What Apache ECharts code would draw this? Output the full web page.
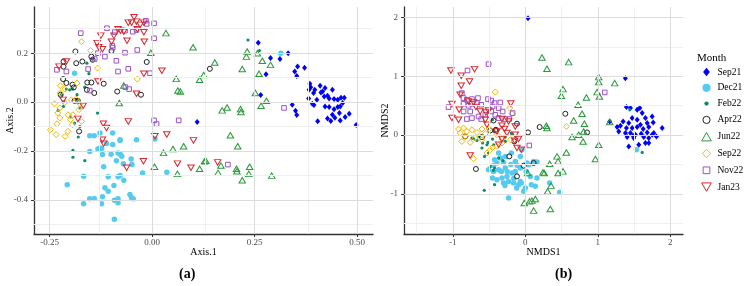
<!DOCTYPE html>
<html><head><meta charset="utf-8">
<script src="https://cdn.jsdelivr.net/npm/echarts@6/dist/echarts.min.js"></script>
<style>html,body{margin:0;padding:0;background:#fff}#c{width:746px;height:286px}</style>
</head><body><div id="c"></div>
<script>
const months = ['Sep21','Dec21','Feb22','Apr22','Jun22','Sep22','Nov22','Jan23'];

// Panel (a) ticks
const aTicksX = [-0.25, 0, 0.25, 0.5];
const aLabelsX = ['-0.25', '0.00', '0.25', '0.50'];
const aTicksY = [-0.4, -0.2, 0, 0.2];
const aLabelsY = ['-0.4', '-0.2', '0.0', '0.2'];
const aMinorX = [-0.125, 0.125, 0.375];
const aMinorY = [-0.5, -0.3, -0.1, 0.1, 0.3];
// Panel (b) ticks
const bTicksX = [-1, 0, 1, 2];
const bLabelsX = ['-1', '0', '1', '2'];
const bTicksY = [-1, 0, 1, 2];
const bLabelsY = ['-1', '0', '1', '2'];
const bMinorX = [-1.5, -0.5, 0.5, 1.5];
const bMinorY = [-1.5, -0.5, 0.5, 1.5];

// Panel (a) data: Axis.1, Axis.2
const aSep21 = [[0.259,0.243],[0.289,0.18],[0.312,0.176],[0.332,0.2],[0.278,0.114],[0.355,0.145],[0.372,0.14],[0.348,0.125],[0.353,0.107],[0.265,0.029],[0.342,-0.011],[0.35,-0.036],[0.353,-0.053],[0.11,-0.082],[0.385,0.075],[0.387,0.061],[0.383,0.05],[0.397,0.05],[0.41,0.067],[0.422,0.057],[0.44,0.05],[0.394,0.037],[0.412,0.039],[0.416,0.043],[0.428,0.026],[0.42,0.023],[0.382,0.015],[0.402,0.009],[0.432,0.015],[0.444,0.012],[0.453,0.009],[0.461,0.018],[0.469,0.018],[0.391,-0.007],[0.395,-0.012],[0.422,-0.018],[0.432,-0.02],[0.444,-0.029],[0.453,-0.02],[0.459,-0.018],[0.465,-0.004],[0.457,-0.045],[0.44,-0.052],[0.428,-0.067],[0.446,-0.064],[0.436,-0.078],[0.459,-0.075],[0.471,-0.061],[0.481,-0.048],[0.404,-0.079],[0.498,-0.094]];
const aDec21 = [[-0.189,0.118],[0.314,0.2],[-0.152,-0.138],[-0.141,-0.138],[-0.127,-0.127],[-0.096,-0.127],[-0.078,-0.154],[-0.038,-0.154],[0.007,-0.151],[-0.127,-0.188],[-0.111,-0.17],[-0.096,-0.174],[-0.152,-0.202],[-0.132,-0.192],[-0.123,-0.19],[-0.078,-0.157],[-0.121,-0.215],[-0.1,-0.214],[-0.083,-0.208],[-0.077,-0.215],[-0.074,-0.222],[-0.051,-0.233],[-0.087,-0.24],[-0.07,-0.252],[-0.049,-0.256],[-0.118,-0.265],[-0.167,-0.304],[-0.107,-0.306],[-0.083,-0.306],[-0.078,-0.301],[-0.069,-0.32],[-0.023,-0.29],[0.036,-0.287],[-0.207,-0.338],[-0.093,-0.342],[-0.115,-0.351],[-0.107,-0.365],[-0.054,-0.378],[-0.05,-0.392],[-0.046,-0.396],[-0.152,-0.396],[-0.141,-0.395],[-0.121,-0.388],[-0.092,-0.402],[-0.083,-0.396],[-0.083,-0.412],[-0.167,-0.416],[-0.123,-0.416],[-0.092,-0.48]];
const aFeb22 = [[-0.159,0.159],[-0.154,0.116],[-0.145,0.176],[-0.209,0.053],[-0.201,0.05],[-0.194,0.053],[-0.183,0.03],[-0.181,0.009],[-0.229,-0.034],[-0.216,-0.018],[-0.216,0.002],[-0.164,0.061],[-0.199,-0.061],[-0.189,-0.086],[-0.176,-0.1],[-0.18,-0.143],[-0.133,-0.045],[-0.221,0.03],[-0.176,-0.024],[0.234,0.254],[0.262,0.211],[-0.193,-0.198],[-0.193,-0.226],[-0.164,-0.24]];
const aApr22 = [[-0.187,0.207],[-0.216,0.166],[-0.216,0.145],[-0.185,0.159],[-0.17,0.166],[-0.148,0.186],[-0.145,0.173],[-0.099,0.209],[-0.013,0.164],[-0.217,0.094],[-0.209,0.078],[-0.194,0.071],[-0.191,0.06],[-0.158,0.08],[-0.148,0.08],[-0.118,0.075],[-0.159,0.05],[-0.141,0.037],[-0.085,0.043],[-0.027,0.03],[-0.223,0.03],[-0.189,0.005],[-0.181,0.005],[-0.178,-0.12],[0.141,0.136]];
const aJun22 = [[0.034,0.282],[-0.003,0.202],[0.059,0.095],[0.063,0.047],[-0.069,0.068],[-0.08,-0.004],[0.051,-0.192],[0.077,-0.181],[0.1,0.224],[0.153,0.162],[0.126,0.111],[0.116,0.091],[0.232,0.207],[0.23,0.186],[0.257,0.2],[0.269,0.169],[0.289,0.152],[0.22,0.135],[0.261,0.116],[0.252,0.037],[0.279,0.005],[0.266,-0.015],[0.171,-0.034],[0.183,-0.022],[0.216,-0.029],[0.217,-0.041],[0.069,0.043],[0.191,-0.136],[0.209,-0.181],[0.128,-0.242],[0.131,-0.24],[0.116,-0.273],[0.168,-0.26],[0.161,-0.29],[0.206,-0.273],[0.207,-0.283],[0.238,-0.265],[0.236,-0.294],[0.22,-0.32],[0.292,-0.301],[0.028,-0.208],[0.006,-0.265],[0.062,-0.294]];
const aSep22 = [[-0.172,0.247],[-0.15,0.211],[-0.133,0.139],[-0.036,0.094],[-0.183,0.078],[-0.224,0.067],[-0.213,0.053],[-0.238,-0.007],[-0.225,-0.024],[-0.23,-0.045],[-0.205,-0.052],[-0.193,-0.052],[-0.178,-0.031],[-0.176,-0.007],[-0.213,-0.002],[-0.225,-0.065],[-0.232,-0.089],[-0.248,-0.113],[-0.234,-0.133],[-0.212,-0.14],[-0.205,-0.12],[-0.194,-0.093],[-0.172,-0.079],[-0.199,-0.072],[-0.185,0.012],[-0.197,0.009],[-0.224,0.037]];
const aNov22 = [[-0.174,0.282],[-0.11,0.302],[-0.091,0.286],[-0.066,0.292],[-0.047,0.288],[-0.038,0.295],[-0.015,0.333],[-0.013,0.32],[0.005,0.322],[0.005,0.261],[-0.097,0.231],[-0.096,0.223],[-0.132,0.2],[-0.066,0.202],[-0.036,0.213],[-0.115,0.186],[-0.087,0.169],[-0.14,0.176],[-0.232,0.132],[-0.209,0.125],[-0.156,0.135],[-0.083,0.125],[-0.058,0.136],[-0.005,0.118],[-0.065,0.061],[-0.056,0.053],[-0.152,0.047],[0.005,-0.075],[0.011,-0.09],[0.065,-0.075],[0.322,-0.024],[0.185,-0.256]];
const aJan23 = [[-0.044,0.347],[-0.058,0.325],[-0.05,0.325],[-0.038,0.329],[-0.029,0.316],[-0.02,0.325],[-0.083,0.298],[-0.077,0.292],[-0.069,0.288],[-0.125,0.272],[-0.093,0.271],[-0.036,0.298],[-0.02,0.286],[-0.061,0.251],[-0.099,0.247],[-0.019,0.247],[-0.134,0.241],[-0.13,0.224],[-0.121,0.216],[-0.227,0.145],[-0.209,0.166],[0.024,0.128],[-0.02,0.116],[-0.132,0.084],[-0.038,0.034],[-0.168,-0.015],[-0.217,0.009],[-0.181,-0.069],[-0.119,-0.089],[-0.111,-0.106],[-0.058,-0.079],[0.007,-0.14],[0.036,-0.133],[-0.121,-0.154],[0.101,-0.157],[-0.118,-0.17],[-0.021,-0.242],[-0.062,-0.269],[0.062,-0.252],[0.095,-0.269],[0.16,-0.247]];

// Panel (b) data: NMDS1, NMDS2
const bSep21 = [[0.037,1.99],[1.38,0.965],[1.395,0.476],[1.45,0.459],[1.543,0.43],[1.579,0.459],[1.612,0.374],[1.474,0.289],[1.543,0.26],[1.657,0.289],[1.75,0.316],[1.349,0.231],[1.427,0.204],[1.588,0.175],[1.681,0.204],[1.764,0.214],[1.266,0.136],[1.312,0.158],[1.395,0.119],[1.474,0.119],[1.543,0.136],[1.626,0.102],[1.703,0.136],[1.888,0.119],[1.289,0.061],[1.381,0.034],[1.45,0.034],[1.519,0.005],[1.598,0.022],[1.681,0.044],[1.772,0.034],[1.809,-0.024],[1.405,-0.034],[1.496,-0.051],[1.634,-0.034],[1.703,-0.051],[1.164,0.231],[1.657,-0.136],[1.565,-0.165],[1.427,-0.194],[1.703,-0.136],[1.487,-0.012],[1.75,0.005]];
const bDec21 = [[1.533,-0.25],[0.161,-0.459],[0.023,-0.476],[0.069,-0.704],[0.336,-0.816],[0.474,-0.976],[0.138,-0.874],[-0.023,-0.959],[-0.069,-0.789],[0.014,-0.619],[-0.424,-0.42],[-0.391,-0.476],[-0.345,-0.391],[-0.276,-0.364],[-0.138,-0.449],[-0.069,-0.364],[0.046,-0.505],[0.115,-0.449],[-0.046,-0.25],[-0.193,-0.306],[-0.276,-0.561],[-0.368,-0.59],[-0.452,-0.731],[-0.391,-0.76],[-0.322,-0.731],[-0.253,-0.704],[-0.184,-0.646],[-0.138,-0.619],[-0.069,-0.561],[-0.231,-0.789],[-0.162,-0.816],[-0.093,-0.845],[-0.055,-0.816],[0,-0.901],[-0.231,-1.071],[-0.438,-0.619],[-0.507,-0.59],[-0.3,-0.816],[-0.368,-0.306],[0.161,-0.731],[0.083,-0.845],[-0.3,-0.47],[-0.2,-0.5],[-0.11,-0.52],[-0.25,-0.62],[-0.33,-0.62],[-0.16,-0.74],[-0.28,-0.86],[-0.12,-0.9],[-0.44,-0.52]];
const bFeb22 = [[-0.566,-0.942],[-0.424,-0.845],[-0.598,-0.221],[-0.507,-0.306],[-0.483,-0.534],[-0.424,-0.561],[-0.59,-0.136],[-0.714,-0.063],[-0.635,-0.024],[-0.529,-0.165],[-0.562,-0.364],[-0.438,-0.165],[-0.308,-0.437],[-0.368,-0.391],[-0.736,-0.051],[-0.667,-0.092],[-0.452,-0.068],[-0.515,-0.126],[-0.276,-0.034],[-0.193,0.034],[-0.452,0.26],[-0.276,-0.109],[-0.438,-0.6],[1.612,-0.296],[1.441,0.43],[-0.184,0.022]];
const bApr22 = [[0.037,0.044],[0.198,0.136],[-0.115,0.192],[-0.438,0.248],[-0.829,-0.024],[-0.598,-0.034],[-0.483,0.078],[-0.414,0.078],[-0.152,-0.109],[-0.405,0.09],[0.552,0.362],[0.852,0.044],[-0.023,-0.522],[0.115,-0.476],[-0.681,-0.578],[-0.221,-0.364],[-0.115,-0.704]];
const bJun22 = [[0.23,1.32],[0.299,1.128],[0.598,1.241],[0.52,0.782],[0.497,0.668],[1.013,0.986],[1.013,0.901],[1.233,0.884],[0.99,0.731],[1.022,0.657],[0.843,0.64],[0.728,0.515],[0.783,0.362],[0.667,0.248],[0.815,0.192],[1.164,0.221],[0.29,0.158],[0.299,0.119],[0.645,-0.034],[0.736,0.005],[0.805,0.061],[1.013,-0.165],[0.797,-0.109],[0.967,-0.408],[0.438,-0.364],[0.566,-0.296],[0.452,-0.449],[0.336,-0.488],[0.52,-0.619],[0.452,-0.646],[0.244,-0.636],[0.262,-0.646],[0.032,-0.646],[0.355,-0.862],[0.308,-0.959],[0.138,-1.088],[0.092,-1.117],[0.059,-1.129],[-0.014,-1.156],[0.115,-1.287],[0.345,-1.259]];
const bSep22 = [[-0.414,0.731],[-0.216,0.459],[-0.184,0.362],[0.566,0.146],[-0.921,0.102],[-0.852,0.119],[-0.898,0.034],[-0.806,0.061],[-0.736,0.09],[-0.667,0.044],[-0.598,0.102],[-0.829,-0.024],[-0.691,-0.051],[-0.552,0.022],[-0.497,0.102],[-0.391,0.005],[-0.322,-0.068],[-0.875,-0.109],[-0.76,-0.126],[-0.529,-0.306],[-0.483,-0.25],[-0.452,-0.211],[-0.391,-0.194],[-0.322,-0.136],[-0.207,-0.08],[-0.714,-0.403],[-0.598,-0.08]];
const bNov22 = [[-0.507,1.207],[-0.797,1.099],[-1.059,0.476],[0.055,-0.177],[-0.875,0.714],[-0.852,0.629],[-0.806,0.6],[-0.736,0.612],[-0.653,0.629],[-0.852,0.532],[-0.783,0.498],[-0.736,0.532],[-0.667,0.544],[-0.608,0.515],[-0.515,0.612],[-0.47,0.588],[-0.424,0.544],[-0.345,0.554],[-0.452,0.486],[-0.368,0.459],[-0.313,0.401],[-0.47,0.401],[-0.552,0.345],[-0.645,0.316],[-0.76,0.401],[-0.852,0.401],[-0.806,0.272],[-0.736,0.289],[-0.608,0.272],[-0.414,0.345],[-0.368,0.289],[-0.276,0.272],[-0.221,0.272],[-0.175,0.374],[1.095,0.725]];
const bJan23 = [[-1.026,1.099],[-0.884,1.009],[-0.7,1.122],[-0.769,0.912],[-0.884,0.838],[-0.898,0.685],[-1.012,0.527],[-1.012,0.289],[-0.2,0.538],[-0.912,0.43],[-0.783,0.571],[-0.714,0.554],[-0.681,0.476],[-0.622,0.401],[-0.543,0.385],[-0.507,0.418],[-0.921,0.26],[-0.552,0.26],[-0.529,0.175],[-0.322,0.272],[-0.231,0.231],[-0.322,0.158],[-0.138,0.146],[-0.391,0.061],[-0.286,0.102],[-0.253,0.034],[-0.322,-0.068],[-0.093,-0.068],[-0.138,0.005],[-0.147,-0.097],[-0.055,-0.25],[-0.115,-0.221],[-0.76,-0.347],[-0.368,-0.165]];

const panelA = {Sep21:aSep21, Dec21:aDec21, Feb22:aFeb22, Apr22:aApr22, Jun22:aJun22, Sep22:aSep22, Nov22:aNov22, Jan23:aJan23};
const panelB = {Sep21:bSep21, Dec21:bDec21, Feb22:bFeb22, Apr22:bApr22, Jun22:bJun22, Sep22:bSep22, Nov22:bNov22, Jan23:bJan23};

const DOWN_TRI = 'path://M0,0L10,0L5,8.66Z';
const STY = {
  Sep21: {symbol:'diamond', size:[5,6], color:'#0000ff', fill:true, legendIcon:'path://M0,0M10,10M5,1.5L7.8,5L5,8.5L2.2,5Z'},
  Dec21: {symbol:'circle', size:5.5, color:'#56cbef', fill:true, legendIcon:'path://M0,0M10,10M5,1.6A3.4,3.4,0,1,1,5,8.4A3.4,3.4,0,1,1,5,1.6Z'},
  Feb22: {symbol:'circle', size:3.2, color:'#0b8c6c', fill:true, legendIcon:'path://M0,0M10,10M5,3.2A1.8,1.8,0,1,1,5,6.8A1.8,1.8,0,1,1,5,3.2Z'},
  Apr22: {symbol:'circle', size:5, color:'#222222', fill:false, legendIcon:'path://M0,0M10,10M5,2A3,3,0,1,1,5,8A3,3,0,1,1,5,2Z'},
  Jun22: {symbol:'triangle', size:[6.5,5.5], color:'#2a9a3c', fill:false, legendIcon:'path://M0,0M10,10M5,1.5L9,8.5L1,8.5Z'},
  Sep22: {symbol:'diamond', size:6, color:'#f2b600', fill:false, legendIcon:'path://M0,0M10,10M5,1.5L8.5,5L5,8.5L1.5,5Z'},
  Nov22: {symbol:'rect', size:4.6, color:'#9b51c8', fill:false, legendIcon:'path://M0,0M10,10M2.2,2.2L7.8,2.2L7.8,7.8L2.2,7.8Z'},
  Jan23: {symbol:DOWN_TRI, size:[6.5,5.5], color:'#d62830', fill:false, legendIcon:'path://M0,0M10,10M1,1.5L9,1.5L5,8.5Z'}
};
function itemStyleOf(s) {
  return s.fill ? {color:s.color, opacity:1, borderWidth:0}
                : {color:'rgba(0,0,0,0)', borderColor:s.color, borderWidth:1, opacity:1};
}
const FONT = 'Liberation Serif';
const labelColor = '#4d4d4d';
const majorStyle = {color:'#dcdcdc', width:1, type:'solid'};
const minorStyle = {color:'#efefef', width:1, type:'solid'};

function fmt(ticks, labels) {
  return v => { const i = ticks.findIndex(t => Math.abs(t - v) < 1e-9); return i >= 0 ? labels[i] : ''; };
}
function xAxisOf(idx, min, max, ticks, labels, name) {
  return {type:'value', gridIndex:idx, min, max, name, nameLocation:'middle', nameGap:13, nameMoveOverlap:false,
    nameTextStyle:{fontFamily:FONT, fontSize:10, color:'#000'},
    axisLine:{show:true, onZero:false, lineStyle:{color:'#333', width:1.3}},
    axisTick:{show:true, customValues:ticks, length:3, lineStyle:{color:'#333', width:1}},
    axisLabel:{customValues:ticks, formatter:fmt(ticks, labels), margin:4, fontFamily:FONT, fontSize:9, color:labelColor},
    splitLine:{show:false}, minorSplitLine:{show:false}};
}
function yAxisOf(idx, min, max, ticks, labels, name, gap, margin) {
  return {type:'value', gridIndex:idx, min, max, name, nameLocation:'middle', nameGap:gap, nameRotate:90, nameMoveOverlap:false,
    nameTextStyle:{fontFamily:FONT, fontSize:10, color:'#000'},
    axisLine:{show:true, onZero:false, lineStyle:{color:'#333', width:1.3}},
    axisTick:{show:true, customValues:ticks, length:3, lineStyle:{color:'#333', width:1}},
    axisLabel:{customValues:ticks, formatter:fmt(ticks, labels), margin, fontFamily:FONT, fontSize:9, color:labelColor},
    splitLine:{show:false}, minorSplitLine:{show:false}};
}
function gridLines(idx, tx, ty, mx, my) {
  const d = [];
  mx.forEach(v => d.push({xAxis:v, lineStyle:minorStyle}));
  my.forEach(v => d.push({yAxis:v, lineStyle:minorStyle}));
  tx.forEach(v => d.push({xAxis:v, lineStyle:majorStyle}));
  ty.forEach(v => d.push({yAxis:v, lineStyle:majorStyle}));
  return {type:'scatter', name:'_grid'+idx, xAxisIndex:idx, yAxisIndex:idx, data:[], z:1, silent:true,
    markLine:{silent:true, symbol:['none','none'], label:{show:false}, animation:false, emphasis:{disabled:true}, data:d}};
}

const series = [gridLines(0, aTicksX, aTicksY, aMinorX, aMinorY), gridLines(1, bTicksX, bTicksY, bMinorX, bMinorY)];
[panelA, panelB].forEach((panel, idx) => {
  months.forEach(m => {
    const s = STY[m];
    series.push({type:'scatter', name:m, data:panel[m], xAxisIndex:idx, yAxisIndex:idx,
      symbol:s.symbol, symbolSize:s.size, itemStyle:itemStyleOf(s), z:3,
      emphasis:{disabled:true}, animation:false});
  });
});

const chart = echarts.init(document.getElementById('c'), null, {renderer:'canvas'});
chart.setOption({
  backgroundColor:'#ffffff',
  animation:false,
  title:{text:'Month', left:692, top:48, textStyle:{fontFamily:FONT, fontSize:11, fontWeight:'normal', color:'#000'}},
  legend:{orient:'vertical', left:700, top:66, itemWidth:12, itemHeight:12, itemGap:3.8, selectedMode:false, padding:0,
    symbolKeepAspect:true,
    textStyle:{fontFamily:FONT, fontSize:9.5, color:'#000', lineHeight:12},
    data: months.map(m => ({name:m, icon:STY[m].legendIcon, itemStyle:itemStyleOf(STY[m])}))},
  grid:[{left:34, top:7, width:339, height:227}, {left:404, top:7, width:279, height:227}],
  xAxis:[xAxisOf(0, -0.288, 0.539, aTicksX, aLabelsX, 'Axis.1'), xAxisOf(1, -1.673, 2.175, bTicksX, bLabelsX, 'NMDS1')],
  yAxis:[yAxisOf(0, -0.54, 0.389, aTicksY, aLabelsY, 'Axis.2', 19, 6), yAxisOf(1, -1.685, 2.18, bTicksY, bLabelsY, 'NMDS2', 13.5, 6)],
  graphic:[
    {type:'text', left:179, top:267, style:{text:'(a)', font:'bold 14px "Liberation Serif"', fill:'#000'}},
    {type:'text', left:555, top:267, style:{text:'(b)', font:'bold 14px "Liberation Serif"', fill:'#000'}}
  ],
  series
});
</script></body></html>
